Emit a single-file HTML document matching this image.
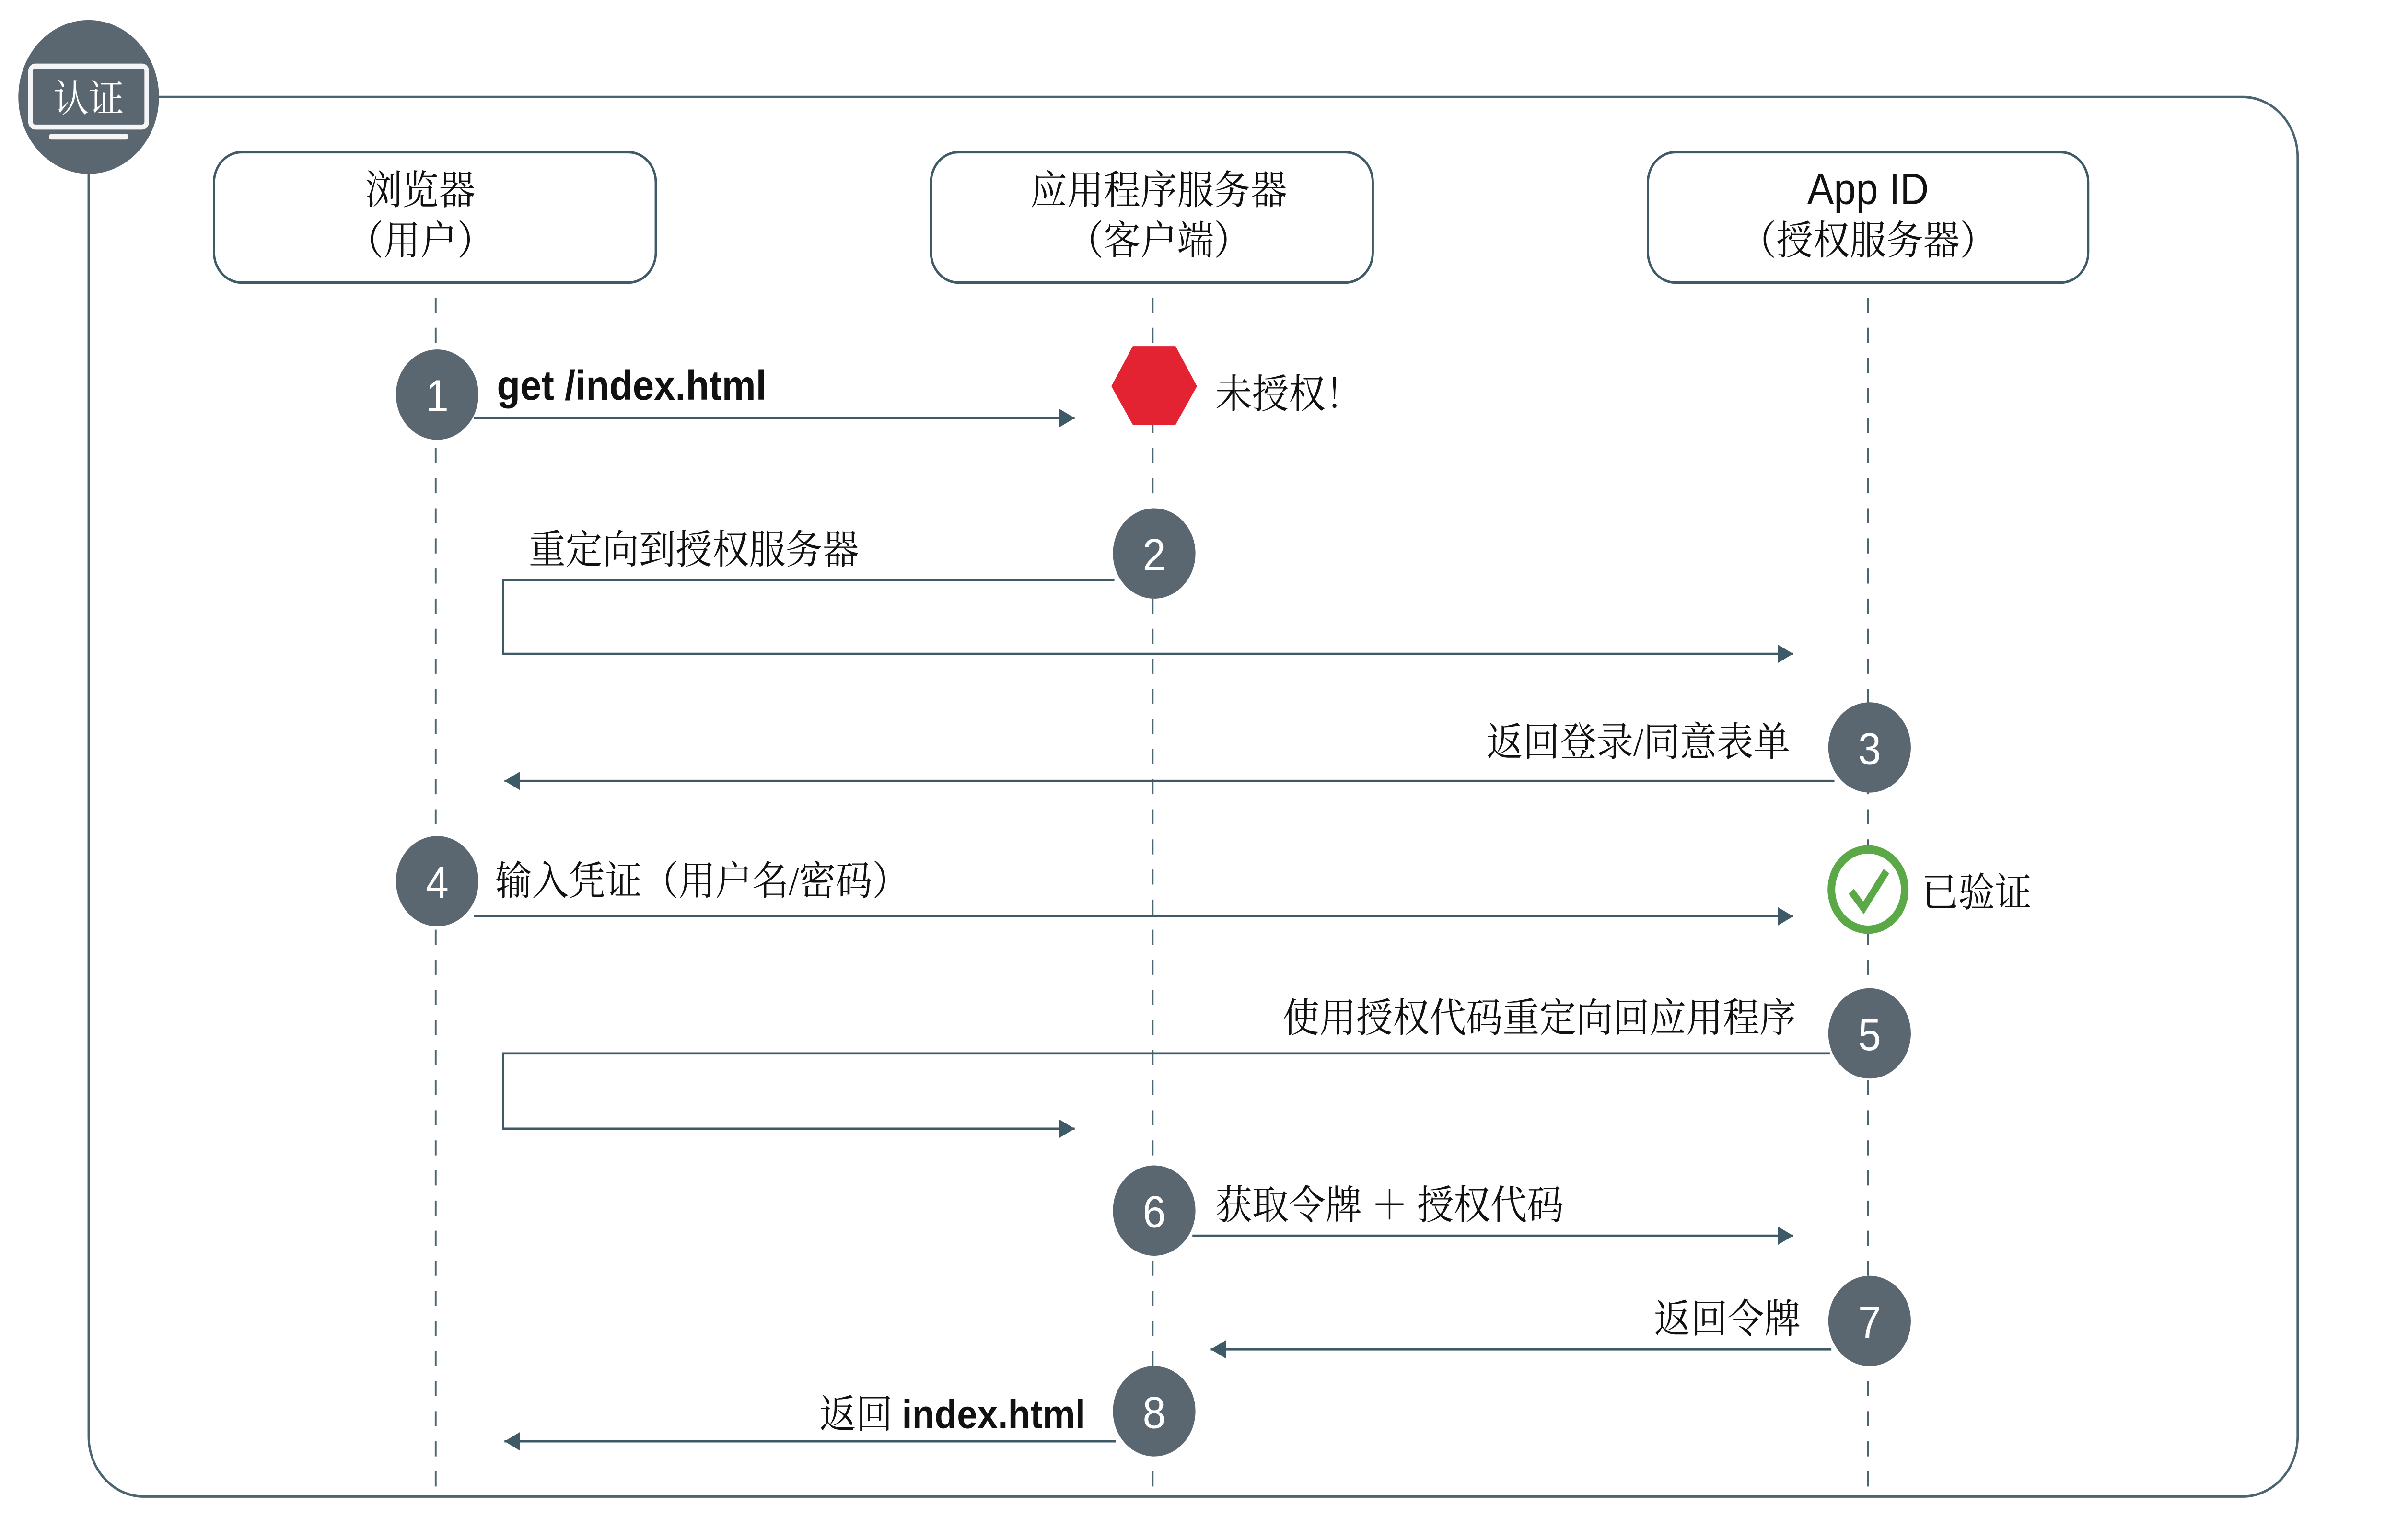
<!DOCTYPE html>
<html><head><meta charset="utf-8"><style>
html,body{margin:0;padding:0;background:#fff;width:100%;height:100%;overflow:hidden;}
svg{display:block;width:100vw;height:100vh;}
.cn{font-family:"Liberation Serif","Noto Serif CJK SC",serif;font-size:24px;fill:#111;}
.en{font-family:"Liberation Sans","Noto Sans CJK SC",sans-serif;font-size:25px;font-weight:bold;fill:#111;}
.num{font-family:"Liberation Sans",sans-serif;font-size:27px;fill:#fff;text-anchor:middle;}
</style></head><body>
<svg viewBox="0 0 1568 921" preserveAspectRatio="none" xmlns="http://www.w3.org/2000/svg">
<defs>
<marker id="a" markerWidth="11" markerHeight="12" refX="10" refY="6" orient="auto" markerUnits="userSpaceOnUse">
<path d="M0,0.5 L10,6 L0,11.5 Z" fill="#3e5a66"/></marker>
</defs>
<rect x="58" y="58" width="1445" height="837" rx="36" fill="none" stroke="#4a6470" stroke-width="1.5"/>
<!-- badge -->
<circle cx="58" cy="58" r="46" fill="#5b6770"/>
<rect x="20" y="39.5" width="76" height="36.5" rx="3" fill="none" stroke="#f4f5f7" stroke-width="3"/>
<rect x="32" y="80" width="52" height="3.5" rx="1.7" fill="#f4f5f7"/>
<text x="58" y="67" text-anchor="middle" style="font-family:'Liberation Serif','Noto Serif CJK SC',serif;font-size:23px;fill:#fff">认证</text>
<!-- lifelines -->
<g stroke="#4a6470" stroke-width="1.2" stroke-dasharray="9,9" fill="none">
<line x1="285" y1="178" x2="285" y2="892"/>
<line x1="754" y1="178" x2="754" y2="892"/>
<line x1="1222" y1="178" x2="1222" y2="892"/>
</g>
<!-- actors -->
<g fill="#fff" stroke="#3e5a66" stroke-width="1.5">
<rect x="140" y="91" width="289" height="78" rx="18"/>
<rect x="609" y="91" width="289" height="78" rx="18"/>
<rect x="1078" y="91" width="288" height="78" rx="18"/>
</g>
<text class="cn" x="275" y="122" text-anchor="middle">浏览器</text>
<text class="cn" x="275" y="152" text-anchor="middle">（用户）</text>
<text class="cn" x="758" y="122" text-anchor="middle">应用程序服务器</text>
<text class="cn" x="758" y="152" text-anchor="middle">（客户端）</text>
<text class="en" x="1222" y="122" text-anchor="middle" style="font-weight:normal;font-size:26px">App ID</text>
<text class="cn" x="1222" y="152" text-anchor="middle">（授权服务器）</text>
<!-- arrows -->
<g stroke="#3e5a66" stroke-width="1.3" fill="none">
<line x1="310" y1="250" x2="703" y2="250" marker-end="url(#a)"/>
<polyline points="729,347 329,347 329,391 1173,391" marker-end="url(#a)"/>
<line x1="1200" y1="467" x2="330" y2="467" marker-end="url(#a)"/>
<line x1="310" y1="548" x2="1173" y2="548" marker-end="url(#a)"/>
<polyline points="1197,630 329,630 329,675 703,675" marker-end="url(#a)"/>
<line x1="780" y1="739" x2="1173" y2="739" marker-end="url(#a)"/>
<line x1="1198" y1="807" x2="792" y2="807" marker-end="url(#a)"/>
<line x1="730" y1="862" x2="330" y2="862" marker-end="url(#a)"/>
</g>
<!-- step circles -->
<g fill="#5b6770">
<circle cx="286" cy="236" r="27"/>
<circle cx="755" cy="331" r="27"/>
<circle cx="1223" cy="447" r="27"/>
<circle cx="286" cy="527" r="27"/>
<circle cx="1223" cy="618" r="27"/>
<circle cx="755" cy="724" r="27"/>
<circle cx="1223" cy="790" r="27"/>
<circle cx="755" cy="844" r="27"/>
</g>
<text class="num" x="286" y="246">1</text>
<text class="num" x="755" y="341">2</text>
<text class="num" x="1223" y="457">3</text>
<text class="num" x="286" y="537">4</text>
<text class="num" x="1223" y="628">5</text>
<text class="num" x="755" y="734">6</text>
<text class="num" x="1223" y="800">7</text>
<text class="num" x="755" y="854">8</text>
<!-- red hexagon -->
<polygon points="727,231 741,207 769,207 783,231 769,254 741,254" fill="#e32232"/>
<!-- check -->
<circle cx="1222" cy="532" r="24" fill="#fff" stroke="#5aa846" stroke-width="5"/>
<polyline points="1211,533 1219,543 1234,521" fill="none" stroke="#5aa846" stroke-width="4.5"/>
<!-- labels -->
<text class="en" x="325" y="239">get /index.html</text>
<text class="cn" x="795" y="244">未授权！</text>
<text class="cn" x="346" y="337">重定向到授权服务器</text>
<text class="cn" x="1171" y="452" text-anchor="end">返回登录/同意表单</text>
<text class="cn" x="324" y="535">输入凭证（用户名/密码）</text>
<text class="cn" x="1257" y="542">已验证</text>
<text class="cn" x="1175" y="617" text-anchor="end">使用授权代码重定向回应用程序</text>
<text class="cn" x="795" y="729">获取令牌 ＋ 授权代码</text>
<text class="cn" x="1178" y="797" text-anchor="end">返回令牌</text>
<text x="710" y="854" text-anchor="end" class="cn">返回 <tspan style="font-family:'Liberation Sans',sans-serif;font-weight:bold">index.html</tspan></text>
</svg>
</body></html>
